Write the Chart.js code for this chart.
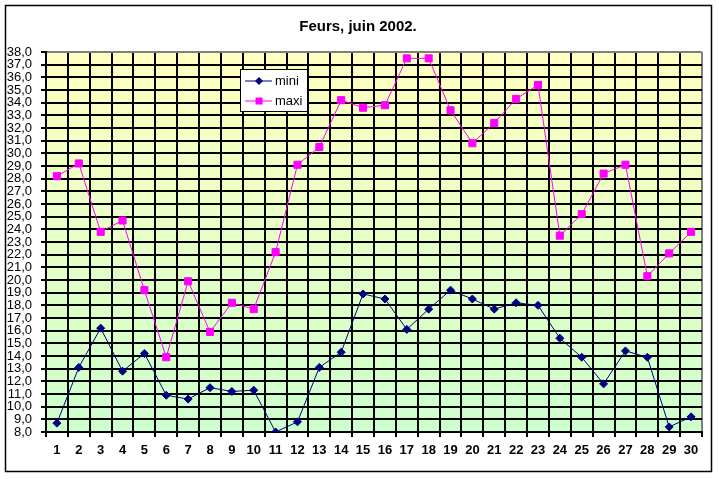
<!DOCTYPE html>
<html>
<head>
<meta charset="utf-8">
<script src="https://cdn.jsdelivr.net/npm/chart.js@4/dist/chart.umd.min.js"></script>
<style>
  body { margin: 0; background: #fff; }
</style>
</head>
<body>
<canvas id="chartFeurs" width="719" height="479"></canvas>
<script>
// Jours du mois
const jours = ['1','2','3','4','5','6','7','8','9','10','11','12','13','14','15',
  '16','17','18','19','20','21','22','23','24','25','26','27','28','29','30'];

// Températures (°C)
const mini = [8.7, 13.1, 16.2, 12.8, 14.2, 10.9, 10.6, 11.5, 11.2, 11.3,
  8.0, 8.8, 13.1, 14.3, 18.9, 18.5, 16.1, 17.7, 19.2, 18.5,
  17.7, 18.2, 18.0, 15.4, 13.9, 11.8, 14.4, 13.9, 8.4, 9.2];
const maxi = [28.2, 29.2, 23.8, 24.7, 19.2, 13.9, 19.9, 15.9, 18.2, 17.7,
  22.2, 29.1, 30.5, 34.2, 33.6, 33.8, 37.5, 37.5, 33.4, 30.8,
  32.4, 34.3, 35.4, 23.5, 25.2, 28.4, 29.1, 20.3, 22.1, 23.8];

const yMin = 8;
const yMax = 38;

// Fond dégradé + cadre
const fondPlugin = {
  id: 'fond',
  beforeDraw(chart) {
    const ctx = chart.ctx;
    const a = chart.chartArea;
    ctx.save();
    ctx.fillStyle = '#fff';
    ctx.fillRect(0, 0, chart.width, chart.height);
    const grad = ctx.createLinearGradient(0, a.top, 0, a.bottom);
    grad.addColorStop(0, '#FFFFC0');
    grad.addColorStop(1, '#CCFFCC');
    ctx.fillStyle = grad;
    ctx.fillRect(a.left, a.top, a.right - a.left, a.bottom - a.top);
    ctx.strokeStyle = '#000';
    ctx.lineWidth = 1.5;
    ctx.strokeRect(5.5, 5.5, 706, 466);
    ctx.restore();
  }
};

// Légende encadrée dans la zone du graphique
const legendePlugin = {
  id: 'legende',
  afterDatasetsDraw(chart) {
    const ctx = chart.ctx;
    const x0 = 240, y0 = 69, w = 67, h = 42;
    ctx.save();
    ctx.fillStyle = '#fff';
    ctx.fillRect(x0, y0, w, h);
    ctx.strokeStyle = '#000';
    ctx.lineWidth = 1;
    ctx.strokeRect(x0 + 0.5, y0 + 0.5, w, h);
    chart.data.datasets.forEach((ds, i) => {
      const y = y0 + 12 + i * 20;
      ctx.strokeStyle = ds.borderColor;
      ctx.lineWidth = 1;
      ctx.beginPath();
      ctx.moveTo(245, y);
      ctx.lineTo(272, y);
      ctx.stroke();
      ctx.fillStyle = ds.borderColor;
      ctx.beginPath();
      if (ds.pointStyle === 'rectRot') {
        ctx.moveTo(259, y - 4);
        ctx.lineTo(263, y);
        ctx.lineTo(259, y + 4);
        ctx.lineTo(255, y);
      } else {
        ctx.rect(255.5, y - 3.5, 7, 7);
      }
      ctx.closePath();
      ctx.fill();
      ctx.fillStyle = '#000';
      ctx.font = '13px "Liberation Sans", Arial, sans-serif';
      ctx.textBaseline = 'middle';
      ctx.fillText(ds.label, 275, y);
    });
    ctx.restore();
  }
};

const ctxFeurs = document.getElementById('chartFeurs').getContext('2d');
const chartFeurs = new Chart(ctxFeurs, {
  type: 'line',
  data: {
    labels: jours,
    datasets: [{
      label: 'mini',
      data: mini,
      borderColor: '#000080',
      backgroundColor: '#000080',
      borderWidth: 1,
      pointStyle: 'rectRot',
      pointRadius: 4,
      tension: 0
    }, {
      label: 'maxi',
      data: maxi,
      borderColor: '#FF00FF',
      backgroundColor: '#FF00FF',
      borderWidth: 1,
      pointStyle: 'rect',
      pointRadius: 5,
      tension: 0
    }]
  },
  options: {
    responsive: false,
    animation: false,
    layout: { padding: { left: 5, right: 8, top: 0, bottom: 7 } },
    plugins: {
      legend: { display: false },
      tooltip: { enabled: false },
      title: {
        display: true,
        text: 'Feurs, juin 2002.',
        color: '#000',
        font: { family: '"Liberation Sans", Arial, sans-serif', size: 15, weight: 'bold', lineHeight: 1.2 },
        padding: { top: 18, bottom: 16 }
      }
    },
    scales: {
      x: {
        offset: true,
        grid: {
          offset: true,
          lineWidth: 2,
          color: c => c.tick ? '#000' : '#808080',
          tickColor: '#000',
          tickLength: 5
        },
        border: { color: '#000', width: 2 },
        ticks: {
          color: '#000',
          padding: 6,
          maxRotation: 0,
          autoSkip: false,
          font: { family: '"Liberation Sans", Arial, sans-serif', size: 13, weight: 'bold' }
        },
        afterFit: s => { s.height = 40; }
      },
      y: {
        min: yMin,
        max: yMax,
        grid: {
          lineWidth: 2,
          color: c => (c.tick && c.tick.value === yMax) ? '#808080' : '#000',
          tickColor: '#000',
          tickLength: 5
        },
        border: { color: '#000', width: 2 },
        ticks: {
          stepSize: 1,
          color: '#000',
          padding: 9,
          autoSkip: false,
          font: { family: '"Liberation Sans", Arial, sans-serif', size: 13 },
          callback: v => v.toFixed(1).replace('.', ',')
        },
        afterFit: s => { s.width = 41; }
      },
      // marge à droite de la zone de tracé
      marge: {
        type: 'linear',
        position: 'right',
        display: true,
        grid: { display: false, drawTicks: false },
        border: { display: false },
        ticks: { display: false },
        afterFit: s => { s.width = 9; }
      }
    }
  },
  plugins: [fondPlugin, legendePlugin]
});
</script>
</body>
</html>
